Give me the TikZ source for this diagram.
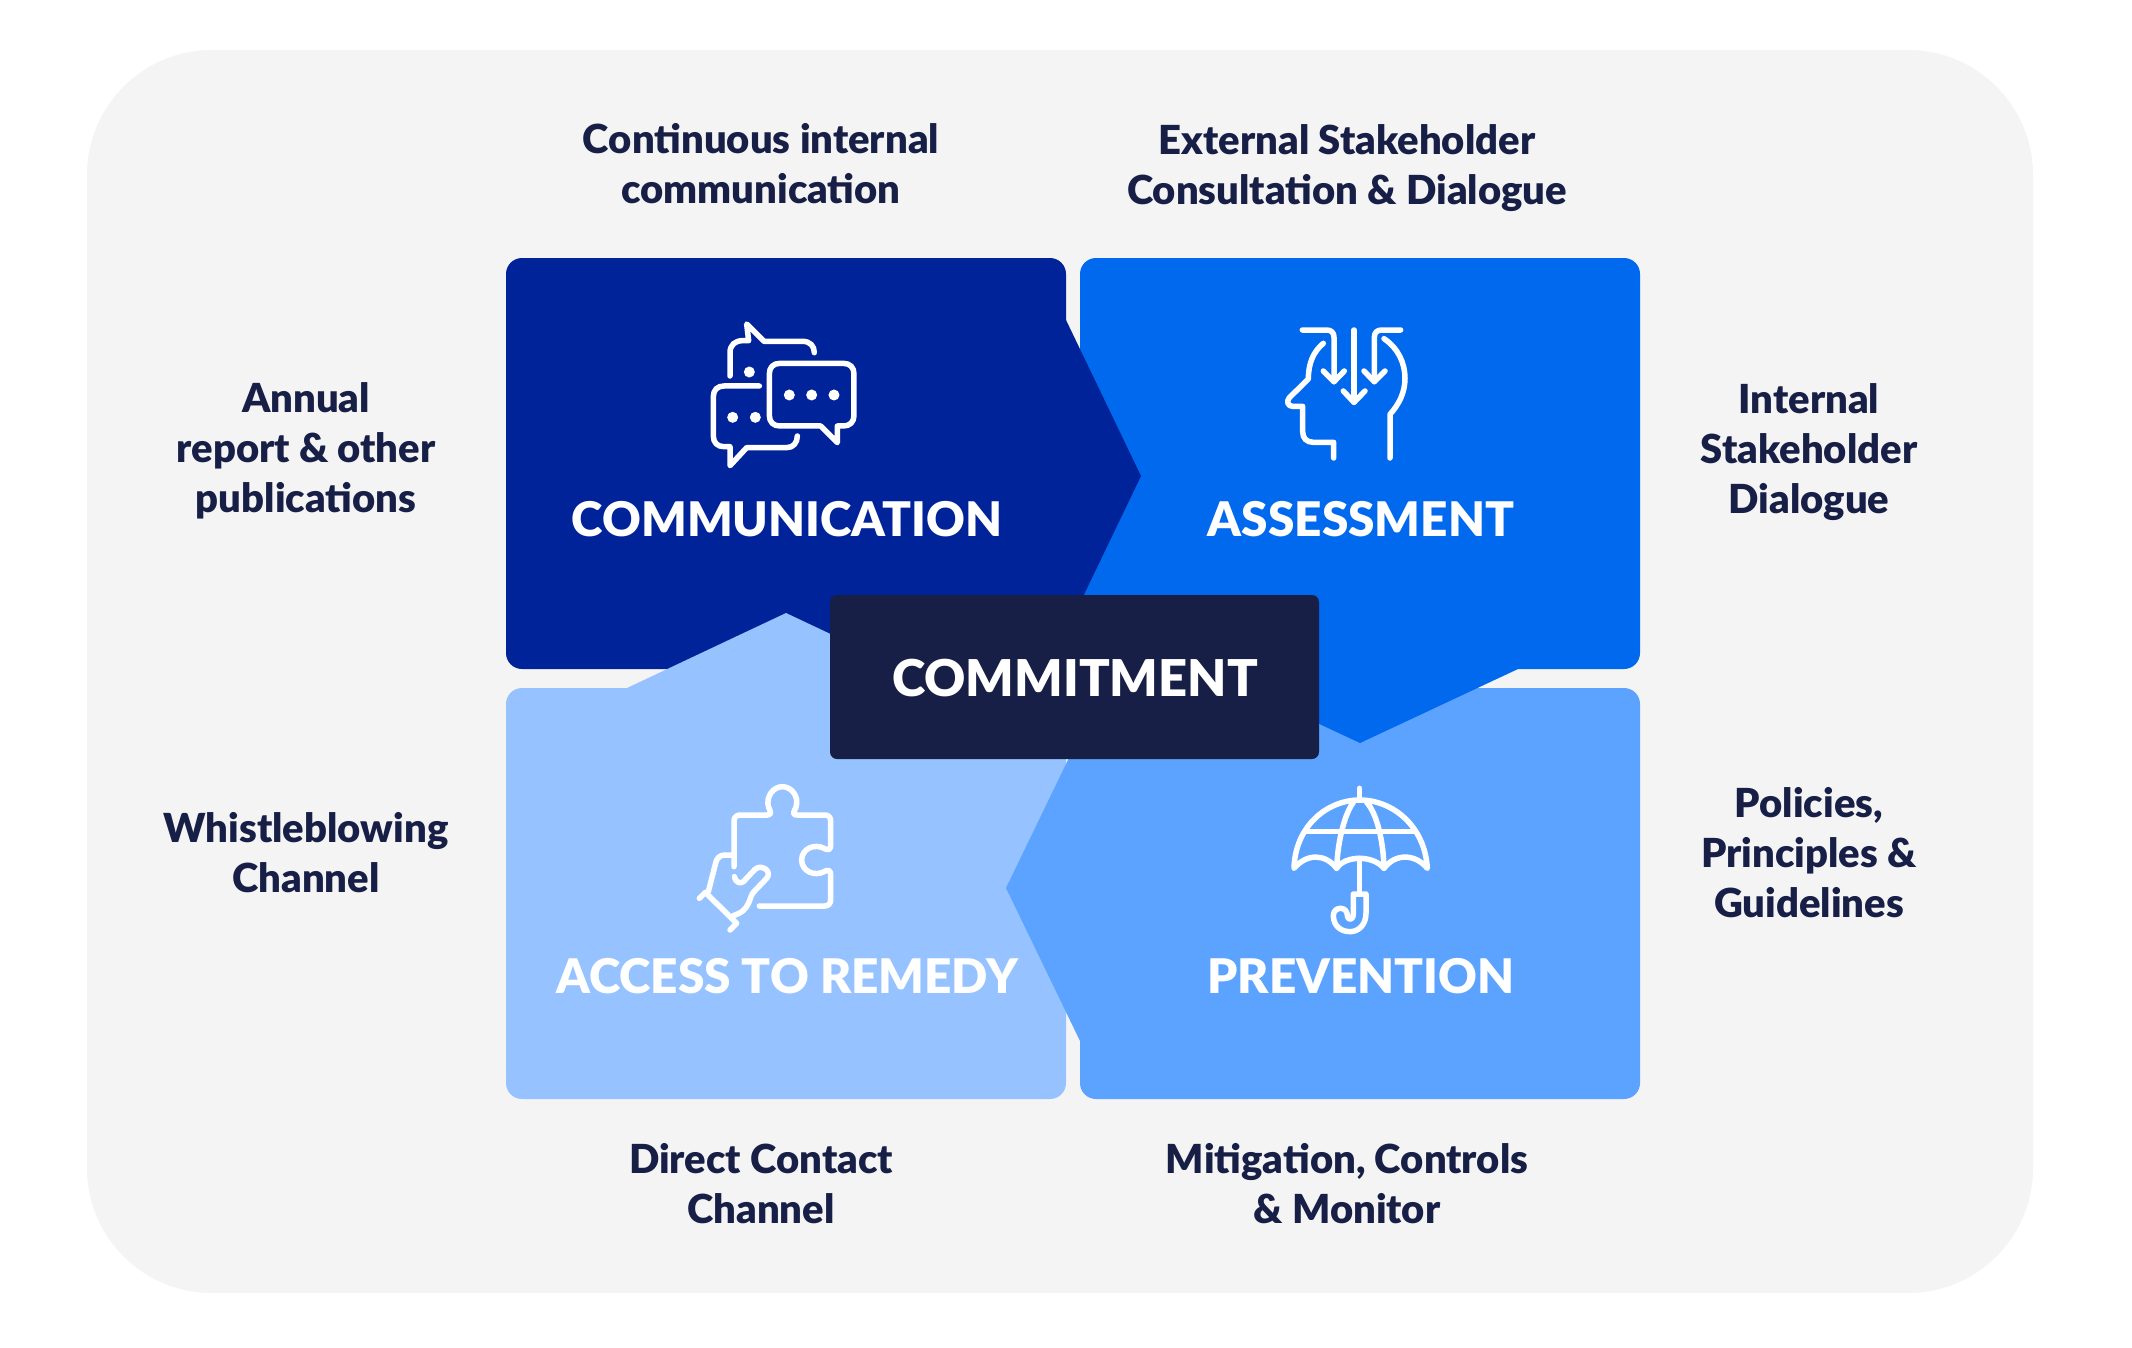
\documentclass[tikz,border=0pt]{standalone}
\usepackage{fontspec}
\setmainfont{Lato}
\newfontfamily\heavyf{Lato Black}
\definecolor{bgc}{HTML}{F4F4F4}
\definecolor{navy}{HTML}{171F47}
\definecolor{cdark}{HTML}{002399}
\definecolor{cmid}{HTML}{0069EE}
\definecolor{cprev}{HTML}{5BA3FF}
\definecolor{clight}{HTML}{96C3FF}
\tikzset{
  quad/.style={anchor=north west,inner sep=0pt,outer sep=0pt,rounded corners=16pt,minimum width=560pt,minimum height=411pt},
  side/.style={align=center,text=navy,font=\fontsize{40}{50}\selectfont\heavyf,inner sep=0pt},
  head/.style={text=white,font=\fontsize{47.7}{60}\selectfont\heavyf,inner sep=0pt},
  icon/.style={draw=white,line width=5.5pt,line cap=round,line join=round},
  icondot/.style={fill=white},
}
\begin{document}
\begin{tikzpicture}[x=1pt,y=-1pt]
\useasboundingbox (0,0) rectangle (2132,1347);
\fill[white] (0,0) rectangle (2132,1347);
\fill[bgc,rounded corners=125pt] (87,50) rectangle (2033,1293);
% quadrants
\node[quad,fill=cprev] (prevq) at (1080,688) {};
\node[quad,fill=clight] (accessq) at (506,688) {};
\node[quad,fill=cmid] (assessq) at (1080,258) {};
\node[quad,fill=cdark] (commq) at (506,258) {};
% pointers
\fill[cmid] (1202,669) -- (1518,669) -- (1360,743) -- cycle;
\fill[cdark] (1066,320) -- (1141,476) -- (1066,632) -- cycle;
\fill[clight] (627,688) -- (945,688) -- (786,613) -- cycle;
\fill[cprev] (1081,733) -- (1006,888) -- (1081,1043) -- cycle;
% centre
\node[fill=navy,rounded corners=7pt,minimum width=489pt,minimum height=164pt,inner sep=0pt,outer sep=0pt] (commit) at (1074.5,677) {};
\node[head,font=\fontsize{50.7}{60}\selectfont\heavyf] (commitl) at (1075,678) {COMMITMENT};
\node[head] (comml) at (787,519) {COMMUNICATION};
\node[head] (assessl) at (1361,519) {ASSESSMENT};
\node[head] (accessl) at (787,976) {ACCESS TO REMEDY};
\node[head] (prevl) at (1361,976) {PREVENTION};
% side labels
\node[side] (t1) at (761,164) {Continuous internal\\communication};
\node[side] (t2) at (1347,168) {External Stakeholder\\Consultation \& Dialogue};
\node[side] (l1) at (306,451) {Annual\\report \& other\\publications};
\node[side] (r1) at (1809,452) {Internal\\Stakeholder\\Dialogue};
\node[side] (l2) at (306,853) {Whistleblowing\\Channel};
\node[side] (r2) at (1809,853) {Policies,\\Principles \&\\Guidelines};
\node[side] (b1) at (761,1184) {Direct Contact\\Channel};
\node[side] (b2) at (1347,1184) {Mitigation, Controls\\\& Monitor};
% chat icon
\begin{scope}[shift={(680,300)},x=0.3333pt,y=-0.3333pt]
\draw[icon] (150,228) -- (150,158) .. controls (150,135) and (165,122) .. (188,122) -- (206,122) -- (200,72) -- (252,124) -- (368,124) .. controls (390,124) and (403,138) .. (403,158);
\fill[icondot] (208,216) circle (5.5pt);
\draw[icon] (300,190) -- (490,190) .. controls (510,190) and (522,202) .. (522,222) -- (522,346) .. controls (522,366) and (510,378) .. (490,378) -- (472,378) -- (472,428) -- (422,378) -- (300,378) .. controls (280,378) and (268,366) .. (268,346) -- (268,222) .. controls (268,202) and (280,190) .. (300,190) -- cycle;
\fill[icondot] (328,285) circle (5.5pt) (395,285) circle (5.5pt) (462,285) circle (5.5pt);
\draw[icon] (238,258) -- (132,258) .. controls (112,258) and (100,270) .. (100,290) -- (100,408) .. controls (100,428) and (112,440) .. (132,440) -- (150,440) -- (150,497) -- (200,443) -- (320,443) .. controls (340,443) and (352,428) .. (352,408);
\fill[icondot] (158,352) circle (5.5pt) (226,352) circle (5.5pt);
\end{scope}
% head icon
\begin{scope}[shift={(1260,300)},x=0.3333pt,y=-0.3333pt]
\draw[icon] (127,90) -- (200,90) .. controls (214,90) and (222,98) .. (222,112) -- (222,245);
\draw[icon] (190,213) -- (222,245) -- (253,213);
\draw[icon] (282,90) -- (282,307);
\draw[icon] (250,273) -- (282,307) -- (315,273);
\draw[icon] (422,90) -- (365,90) .. controls (351,90) and (343,98) .. (343,112) -- (343,245);
\draw[icon] (312,213) -- (343,245) -- (375,213);
\draw[icon] (190,130) .. controls (160,155) and (145,190) .. (145,237) -- (88,293) .. controls (78,305) and (84,319) .. (98,319) -- (128,319) -- (128,395) .. controls (128,415) and (140,427) .. (160,427) -- (221,427) -- (221,474);
\draw[icon] (372,116) .. controls (415,145) and (435,190) .. (435,235) .. controls (435,280) and (415,315) .. (390,343) -- (390,474);
\end{scope}
% puzzle icon
\begin{scope}[shift={(680,770)},x=0.3333pt,y=-0.3333pt]
\draw[icon] (162,290) -- (162,152) .. controls (162,142) and (170,135) .. (180,135) -- (262,135) .. controls (278,135) and (270,122) .. (266,112) .. controls (256,80) and (280,50) .. (307,50) .. controls (335,50) and (358,80) .. (348,112) .. controls (344,122) and (332,135) .. (352,135) -- (435,135) .. controls (445,135) and (452,142) .. (452,152) -- (452,228) .. controls (452,242) and (440,240) .. (432,235) .. controls (405,220) and (365,235) .. (365,270) .. controls (365,305) and (405,320) .. (432,305) .. controls (440,300) and (452,298) .. (452,312) -- (452,390) .. controls (452,400) and (445,408) .. (435,408) -- (238,408);
\draw[icon] (155,255) -- (135,255) .. controls (122,255) and (112,262) .. (108,275) -- (85,365);
\draw[icon] (58,385) -- (76,367) -- (170,460) -- (150,480);
\draw[icon] (163,320) .. controls (167,338) and (180,342) .. (190,335) -- (225,298) .. controls (245,280) and (278,305) .. (260,325) -- (222,365) .. controls (205,380) and (215,420) .. (160,437);
\end{scope}
% umbrella icon
\begin{scope}[shift={(1270,770)},x=0.3333pt,y=-0.3333pt]
\draw[icon] (269,55) -- (269,90);
\draw[icon] (72,295) .. controls (75,170) and (170,90) .. (269,90) .. controls (370,90) and (465,170) .. (472,295) .. controls (435,250) and (375,250) .. (342,295) .. controls (310,255) and (225,255) .. (200,295) .. controls (165,250) and (110,250) .. (72,295) -- cycle;
\draw[icon] (200,295) .. controls (203,210) and (225,130) .. (250,97);
\draw[icon] (342,295) .. controls (340,210) and (320,130) .. (290,97);
\draw[icon] (107,184) -- (435,184);
\draw[icon] (269,265) -- (269,370);
\draw[icon] (250,372) -- (288,372) -- (288,430) .. controls (288,465) and (265,485) .. (240,485) .. controls (210,485) and (190,465) .. (190,437) .. controls (190,420) and (203,415) .. (212,415) .. controls (225,415) and (232,425) .. (232,437) .. controls (232,450) and (250,455) .. (250,430) -- cycle;
\end{scope}
\end{tikzpicture}
\end{document}
